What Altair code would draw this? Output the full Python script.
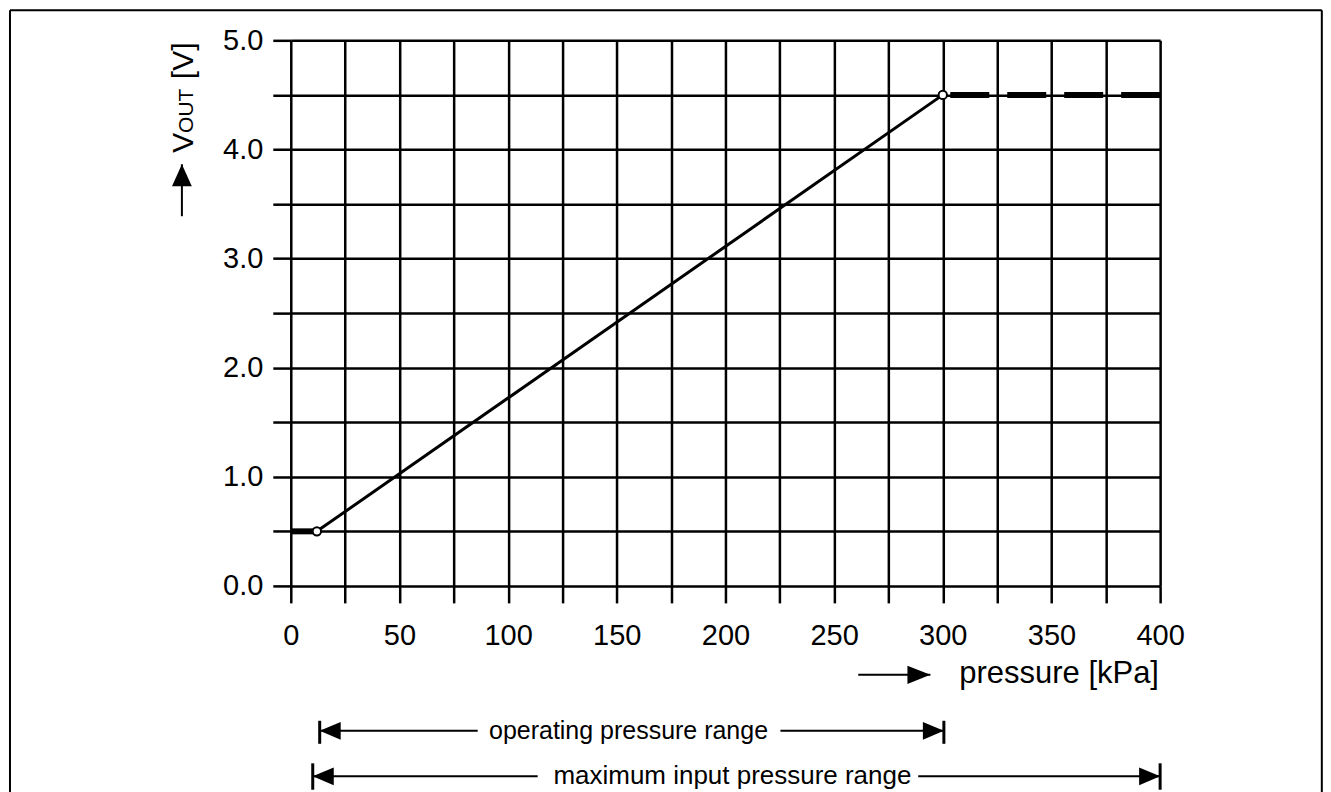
import altair as alt
import pandas as pd

FONT = "Liberation Sans"

# ---- characteristic (pressure kPa -> output V) ----
curve_p = [12, 300]
curve_v = [0.5, 4.5]
clamp_low_p = [0, 12]
clamp_low_v = [0.5, 0.5]
clamp_high_p = [400, 300]
clamp_high_v = [4.5, 4.5]
knee_p = [12, 300]
knee_v = [0.5, 4.5]

# ---- axis ticks ----
x_ticks = list(range(0, 401, 25))
y_ticks = [i * 0.5 for i in range(11)]

# ---- range annotations (data units) ----
range_names = ["operating pressure range", "maximum input pressure range"]
range_font = [25, 26]
range_start = [13.3, 10.1]
range_end = [300.5, 400]
range_text_p = [155.4, 203.2]
range_shaft_left_end = [86.0, 113.6]
range_shaft_right_start = [225.3, 288.7]
range_v = [-1.328, -1.745]
range_bar_top = [-1.236, -1.626]
range_bar_bot = [-1.447, -1.868]

# ---- axis titles (data units) ----
xtitle_text = ["pressure [kPa]"]
xtitle_p = [307.6]
xtitle_v = [-0.89]
xarrow_p = [261.1]
xarrow_p2 = [294.3]
xarrow_v = [-0.815]

ytitle_parts = ["[V]", "OUT", "V"]
ytitle_sizes = [30, 21, 30]
ytitle_v = [4.812, 4.354, 4.061]
ytitle_p = [-45.1, -45.1, -45.1]
yarrow_p = [-50.1]
yarrow_v = [3.864]
yarrow_v2 = [3.388]

# frame (left, top, right edges only)
frame_left = [-129.2]
frame_right = [474.4]
frame_top = [5.275]
frame_bottom = [-3.0]

xs = alt.Scale(domain=[0, 400], nice=False, zero=False)
ys = alt.Scale(domain=[0, 5], nice=False, zero=False)

x_axis = alt.Axis(
    values=x_ticks, grid=True, gridColor="black", gridWidth=2.5, gridOpacity=1,
    domain=False, ticks=True, tickSize=17, tickWidth=2.5, tickColor="black",
    labelExpr="datum.value % 50 == 0 ? datum.label : ''", format="d",
    labelFont=FONT, labelFontSize=29, labelColor="black", labelPadding=19,
    labelFlush=False, labelOverlap=False, title=None,
)
y_axis = alt.Axis(
    values=y_ticks, grid=True, gridColor="black", gridWidth=2.5, gridOpacity=1,
    domain=False, ticks=True, tickSize=18, tickWidth=2.5, tickColor="black",
    labelExpr="datum.value % 1 == 0 ? format(datum.value, '.1f') : ''",
    labelFont=FONT, labelFontSize=29, labelColor="black", labelPadding=10,
    labelOverlap=False, title=None,
)


def X(f, **kw):
    return alt.X(f, type="quantitative", scale=xs, axis=x_axis, **kw)


def Y(f, **kw):
    return alt.Y(f, type="quantitative", scale=ys, axis=y_axis, **kw)


df_curve = pd.DataFrame({"p": curve_p, "v": curve_v})
curve = alt.Chart(df_curve).mark_line(color="black", strokeWidth=3).encode(
    x=X("p"), y=Y("v")
)

low = alt.Chart(pd.DataFrame({"p": clamp_low_p, "v": clamp_low_v})).mark_line(
    color="black", strokeWidth=6, strokeCap="butt"
).encode(x=X("p"), y=Y("v"))

df_high = pd.DataFrame({"p": clamp_high_p, "v": clamp_high_v, "i": list(range(len(clamp_high_p)))})
high = alt.Chart(df_high).mark_line(
    color="black", strokeWidth=6, strokeDash=[39, 18], strokeCap="butt"
).encode(x=X("p"), y=Y("v"), order=alt.Order("i:Q"))

knees = alt.Chart(pd.DataFrame({"p": knee_p, "v": knee_v})).mark_point(
    shape="circle", filled=True, fill="white", stroke="black", strokeWidth=2,
    size=70, opacity=1
).encode(x=X("p"), y=Y("v"))

df_rng = pd.DataFrame({
    "name": range_names, "fs": range_font, "s": range_start, "e": range_end,
    "t": range_text_p, "sl": range_shaft_left_end, "sr": range_shaft_right_start,
    "v": range_v, "bt": range_bar_top, "bb": range_bar_bot,
})
rng_base = alt.Chart(df_rng)
shaft_l = rng_base.mark_rule(color="black", strokeWidth=2).encode(x=X("s"), x2="sl", y=Y("v"))
shaft_r = rng_base.mark_rule(color="black", strokeWidth=2).encode(x=X("sr"), x2="e", y=Y("v"))
bar_s = rng_base.mark_rule(color="black", strokeWidth=3).encode(x=X("s"), y=Y("bt"), y2="bb")
bar_e = rng_base.mark_rule(color="black", strokeWidth=3).encode(x=X("e"), y=Y("bt"), y2="bb")
head_l = rng_base.mark_point(
    shape="M0,0L2,-0.85L2,0.85Z", filled=True, color="black", size=441, opacity=1
).encode(x=X("s"), y=Y("v"))
head_r = rng_base.mark_point(
    shape="M0,0L-2,-0.85L-2,0.85Z", filled=True, color="black", size=441, opacity=1
).encode(x=X("e"), y=Y("v"))
rng_text = rng_base.mark_text(
    font=FONT, color="black", align="center", baseline="middle"
).encode(x=X("t"), y=Y("v"), text="name:N",
         size=alt.Size("fs:Q", scale=None, legend=None))

df_xt = pd.DataFrame({"txt": xtitle_text, "p": xtitle_p, "v": xtitle_v,
                      "a": xarrow_p, "a2": xarrow_p2, "av": xarrow_v})
xt_base = alt.Chart(df_xt)
xt_text = xt_base.mark_text(
    font=FONT, fontSize=31, color="black", align="left", baseline="alphabetic"
).encode(x=X("p"), y=Y("v"), text="txt:N")
xt_shaft = xt_base.mark_rule(color="black", strokeWidth=2).encode(x=X("a"), x2="a2", y=Y("av"))
xt_head = xt_base.mark_point(
    shape="M0,0L-2,-0.8L-2,0.8Z", filled=True, color="black", size=529, opacity=1
).encode(x=X("a2"), y=Y("av"))

df_yt = pd.DataFrame({"txt": ytitle_parts, "fs": ytitle_sizes, "p": ytitle_p, "v": ytitle_v})
yt_text = alt.Chart(df_yt).mark_text(
    font=FONT, color="black", align="center", baseline="alphabetic", angle=270
).encode(x=X("p"), y=Y("v"), text="txt:N", size=alt.Size("fs:Q", scale=None, legend=None))

df_ya = pd.DataFrame({"p": yarrow_p, "v": yarrow_v, "v2": yarrow_v2})
ya_shaft = alt.Chart(df_ya).mark_rule(color="black", strokeWidth=2).encode(x=X("p"), y=Y("v"), y2="v2")
ya_head = alt.Chart(df_ya).mark_point(
    shape="M0,0L-0.9,2L0.9,2Z", filled=True, color="black", size=484, opacity=1
).encode(x=X("p"), y=Y("v"))

df_frame = pd.DataFrame({"l": frame_left, "r": frame_right, "t": frame_top, "b": frame_bottom})
fr = alt.Chart(df_frame)
frame_l = fr.mark_rule(color="black", strokeWidth=2).encode(x=X("l"), y=Y("t"), y2="b")
frame_r = fr.mark_rule(color="black", strokeWidth=2).encode(x=X("r"), y=Y("t"), y2="b")
frame_t = fr.mark_rule(color="black", strokeWidth=2).encode(x=X("l"), x2="r", y=Y("t"))

chart = alt.layer(
    curve, low, high, knees,
    shaft_l, shaft_r, bar_s, bar_e, head_l, head_r, rng_text,
    xt_text, xt_shaft, xt_head,
    yt_text, ya_shaft, ya_head,
    frame_l, frame_r, frame_t,
).properties(
    width=870, height=546, padding=0, background="white"
).configure_view(stroke=None)

chart.save("out.html", embed_options={"renderer": "svg", "actions": False})
